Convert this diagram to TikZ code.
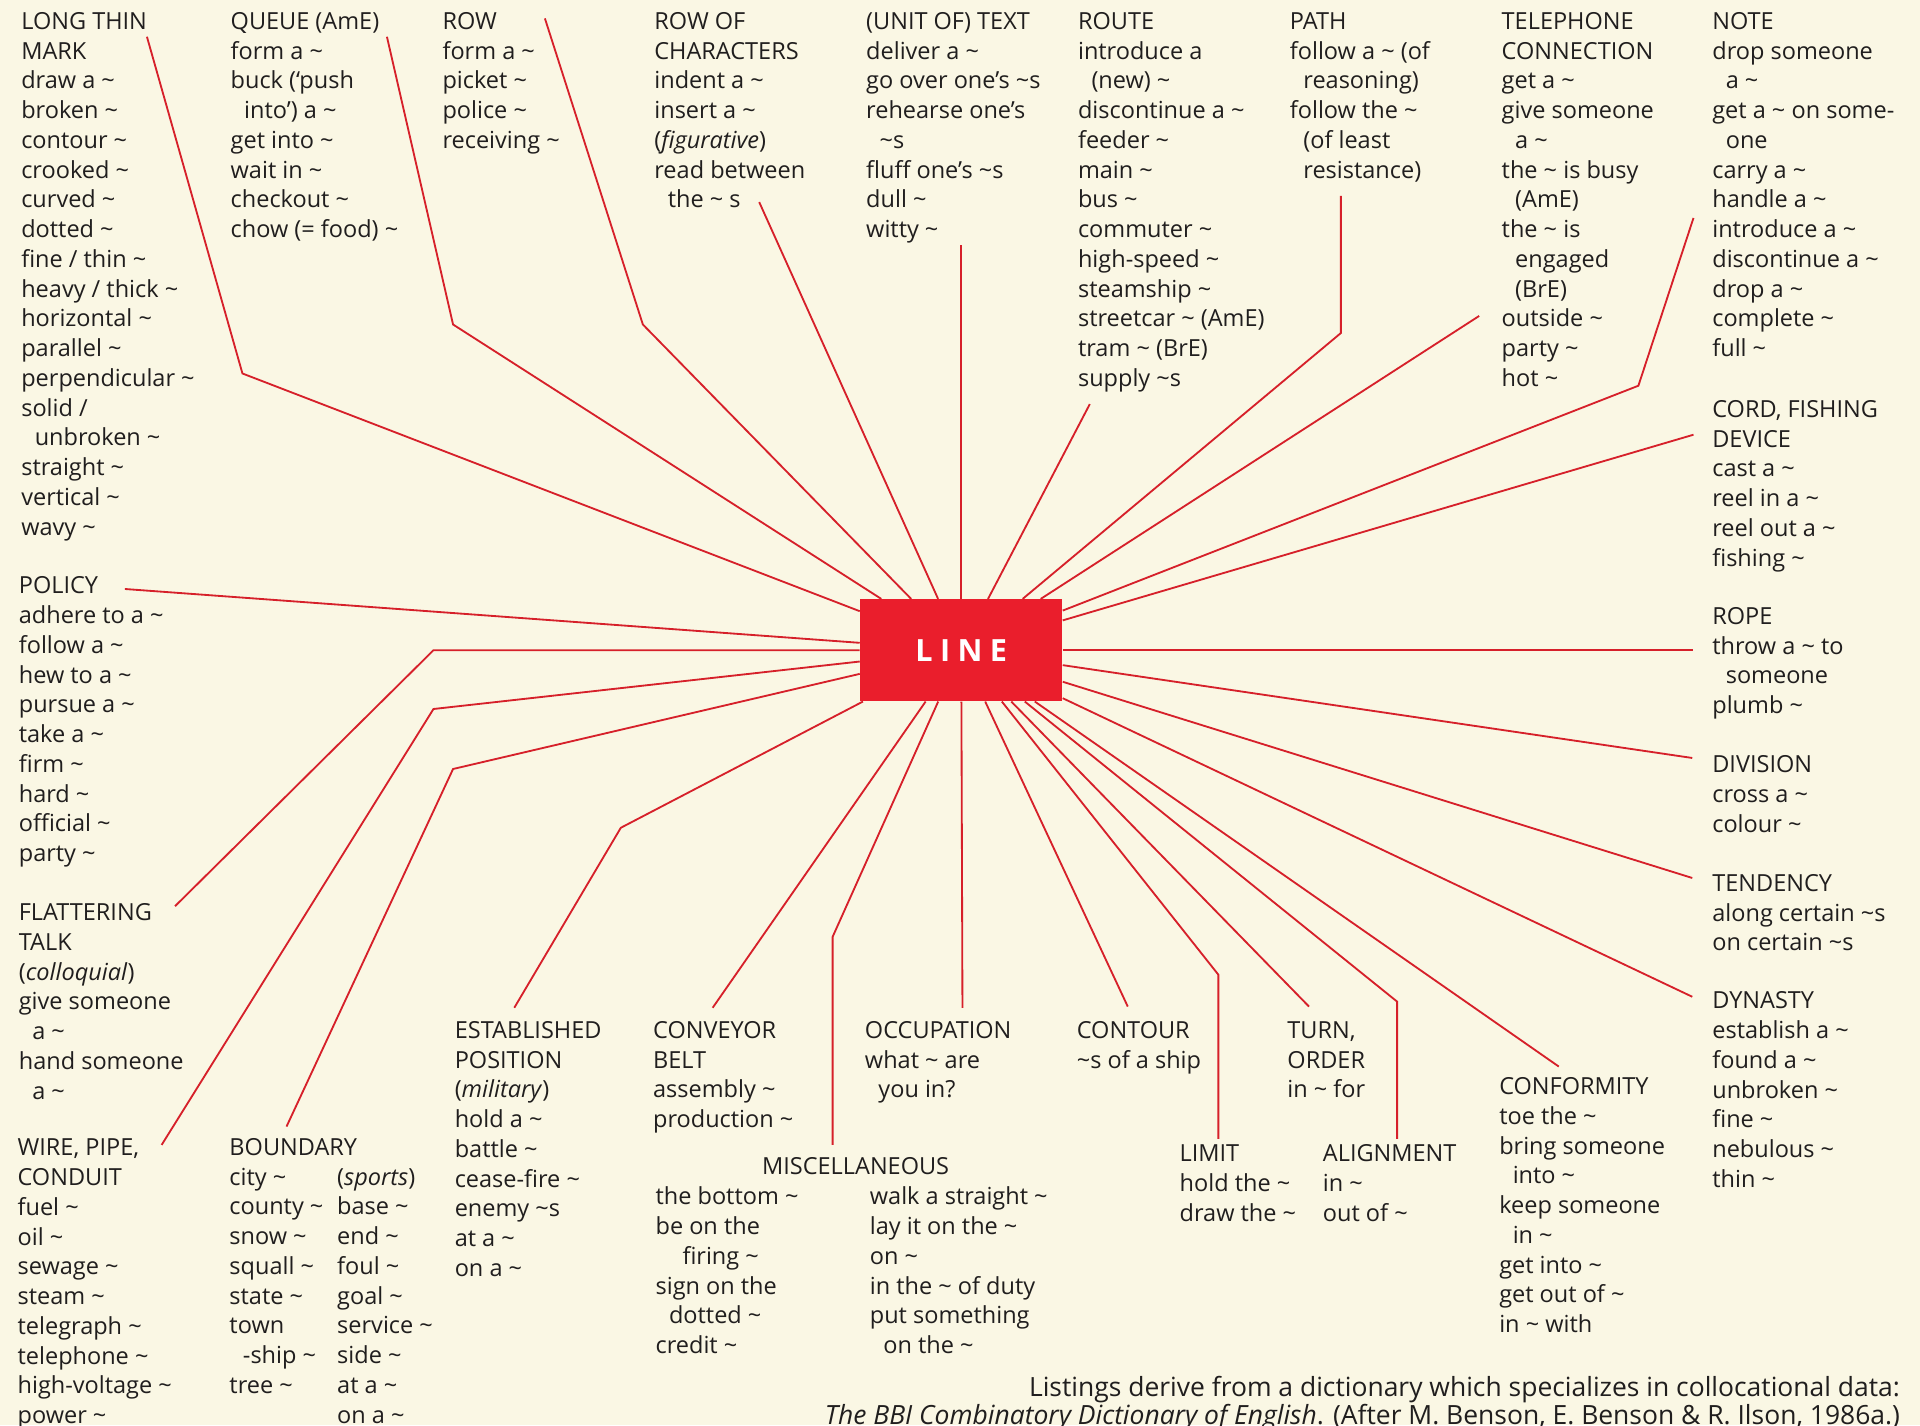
\documentclass[tikz,border=0pt]{standalone}
\usepackage{fontspec}
\setmainfont{Open Sans}
\definecolor{paper}{RGB}{250,247,228}
\definecolor{ink}{RGB}{32,30,30}
\definecolor{rline}{RGB}{214,32,42}
\definecolor{rbox}{RGB}{234,30,44}
\newcommand\sw{\textasciitilde}
\newcommand\ind{\hspace*{5.5pt}}
\newcommand\T{\rule{0pt}{8pt}}
\begin{document}
\begin{tikzpicture}[x=0.5pt,y=-0.5pt,
  col/.style={anchor=north west, align=left, inner sep=0pt, text=ink,
    font=\fontsize{9.6}{12.15}\selectfont, yshift=4.75pt},
  conn/.style={draw=rline, line width=0.75pt, line join=miter}]
\fill[paper] (0,0) rectangle (1568,1164);
\useasboundingbox (0,0) rectangle (1568,1164);

% central box
\node[fill=rbox, minimum width=82.5pt, minimum height=41.5pt, inner sep=0pt,
  text=white, font=\fontsize{12.5}{14}\selectfont\bfseries] (LINE) at (785,531)
  {L\hspace{3pt}I\hspace{3pt}N\hspace{3pt}E};

% top row
\node[col] (mark) at (17,17) {\T LONG THIN\\MARK\\draw a \sw\\broken \sw\\contour \sw\\crooked \sw\\curved \sw\\dotted \sw\\fine / thin \sw\\heavy / thick \sw\\horizontal \sw\\parallel \sw\\perpendicular \sw\\solid /\\\ind unbroken \sw\\straight \sw\\vertical \sw\\wavy \sw};
\node[col] (queue) at (188,17) {\T QUEUE (AmE)\\form a \sw\\buck (‘push\\\ind into’) a \sw\\get into \sw\\wait in \sw\\checkout \sw\\chow (= food) \sw};
\node[col] (row) at (361,17) {\T ROW\\form a \sw\\picket \sw\\police \sw\\receiving \sw};
\node[col] (rowch) at (534,17) {\T ROW OF\\CHARACTERS\\indent a \sw\\insert a \sw\\(\textit{figurative})\\read between\\\ind the \sw{} s};
\node[col] (text) at (707,17) {\T (UNIT OF) TEXT\\deliver a \sw\\go over one’s \sw s\\rehearse one’s\\\ind\sw s\\fluff one’s \sw s\\dull \sw\\witty \sw};
\node[col] (route) at (880,17) {\T ROUTE\\introduce a\\\ind(new) \sw\\discontinue a \sw\\feeder \sw\\main \sw\\bus \sw\\commuter \sw\\high-speed \sw\\steamship \sw\\streetcar \sw{} (AmE)\\tram \sw{} (BrE)\\supply \sw s};
\node[col] (path) at (1053,17) {\T PATH\\follow a \sw{} (of\\\ind reasoning)\\follow the \sw\\\ind(of least\\\ind resistance)};
\node[col] (tel) at (1226,17) {\T TELEPHONE\\CONNECTION\\get a \sw\\give someone\\\ind a \sw\\the \sw{} is busy\\\ind(AmE)\\the \sw{} is\\\ind engaged\\\ind(BrE)\\outside \sw\\party \sw\\hot \sw};
\node[col] (note) at (1398,17) {\T NOTE\\drop someone\\\ind a \sw\\get a \sw{} on some-\\\ind one\\carry a \sw\\handle a \sw\\introduce a \sw\\discontinue a \sw\\drop a \sw\\complete \sw\\full \sw};

% right column
\node[col] (cord) at (1398,334) {\T CORD, FISHING\\DEVICE\\cast a \sw\\reel in a \sw\\reel out a \sw\\fishing \sw};
\node[col] (rope) at (1398,503) {\T ROPE\\throw a \sw{} to\\\ind someone\\plumb \sw};
\node[col] (div) at (1398,624) {\T DIVISION\\cross a \sw\\colour \sw};
\node[col] (tend) at (1398,721) {\T TENDENCY\\along certain \sw s\\on certain \sw s};
\node[col] (dyn) at (1398,817) {\T DYNASTY\\establish a \sw\\found a \sw\\unbroken \sw\\fine \sw\\nebulous \sw\\thin \sw};

% left column
\node[col] (policy) at (15,478) {\T POLICY\\adhere to a \sw\\follow a \sw\\hew to a \sw\\pursue a \sw\\take a \sw\\firm \sw\\hard \sw\\official \sw\\party \sw};
\node[col] (flat) at (15,745) {\T FLATTERING\\TALK\\(\textit{colloquial})\\give someone\\\ind a \sw\\hand someone\\\ind a \sw};
\node[col] (wire) at (14,937) {\T WIRE, PIPE,\\CONDUIT\\fuel \sw\\oil \sw\\sewage \sw\\steam \sw\\telegraph \sw\\telephone \sw\\high-voltage \sw\\power \sw};

% bottom row
\node[col] (bound) at (187,937) {\T BOUNDARY};
\node[col] (boundl) at (187,961) {\T city \sw\\county \sw\\snow \sw\\squall \sw\\state \sw\\town\\\ind-ship \sw\\tree \sw};
\node[col] (boundr) at (275,961) {\T (\textit{sports})\\base \sw\\end \sw\\foul \sw\\goal \sw\\service \sw\\side \sw\\at a \sw\\on a \sw};
\node[col] (estab) at (371,841) {\T ESTABLISHED\\POSITION\\(\textit{military})\\hold a \sw\\battle \sw\\cease-fire \sw\\enemy \sw s\\at a \sw\\on a \sw};
\node[col] (conv) at (533,841) {\T CONVEYOR\\BELT\\assembly \sw\\production \sw};
\node[col] (occ) at (706,841) {\T OCCUPATION\\what \sw{} are\\\ind you in?};
\node[col] (cont) at (879,841) {\T CONTOUR\\\sw s of a ship};
\node[col] (turn) at (1051,841) {\T TURN,\\ORDER\\in \sw{} for};
\node[col] (misc) at (622,952) {\T MISCELLANEOUS};
\node[col] (miscl) at (535,977) {\T the bottom \sw\\be on the\\\ind\ind firing \sw\\sign on the\\\ind dotted \sw\\credit \sw};
\node[col] (miscr) at (710,977) {\T walk a straight \sw\\lay it on the \sw\\on \sw\\in the \sw{} of duty\\put something\\\ind on the \sw};
\node[col] (limit) at (963,942) {\T LIMIT\\hold the \sw\\draw the \sw};
\node[col] (align) at (1080,942) {\T ALIGNMENT\\in \sw\\out of \sw};
\node[col] (conf) at (1224,887) {\T CONFORMITY\\toe the \sw\\bring someone\\\ind into \sw\\keep someone\\\ind in \sw\\get into \sw\\get out of \sw\\in \sw{} with};

\node[col, anchor=north east, align=right, font=\fontsize{10.8}{11.6}\selectfont] (fn) at (1552,1133) {\T Listings derive from a dictionary which specializes in collocational data:\\\textit{The BBI Combinatory Dictionary of English}. (After M. Benson, E. Benson \& R. Ilson, 1986a.)};

% connector points
\coordinate (pa0) at (120,30);   \coordinate (pa1) at (198,305);
\coordinate (pb0) at (316,30);   \coordinate (pb1) at (370,265);
\coordinate (pc0) at (445,15);   \coordinate (pc1) at (525,265);
\coordinate (pd0) at (620,165);
\coordinate (pe0) at (785,200);
\coordinate (pf0) at (890,330);
\coordinate (pg0) at (1095,160); \coordinate (pg1) at (1095,272);
\coordinate (ph0) at (1208,258);
\coordinate (pi0) at (1383,178); \coordinate (pi1) at (1338,315);
\coordinate (pj0) at (1383,355);
\coordinate (pk0) at (1383,531);
\coordinate (pl0) at (1382,619);
\coordinate (pm0) at (1382,717);
\coordinate (pn0) at (1382,814);
\coordinate (po0) at (1273,871);
\coordinate (pp0) at (1141,930); \coordinate (pp1) at (1141,818);
\coordinate (pq0) at (1069,822);
\coordinate (pr0) at (995,930);  \coordinate (pr1) at (995,796);
\coordinate (ps0) at (921,822);
\coordinate (pt0) at (786,823);
\coordinate (pu0) at (680,935);  \coordinate (pu1) at (680,765);
\coordinate (pv0) at (582,823);
\coordinate (pw0) at (420,823);  \coordinate (pw1) at (507,676);
\coordinate (px0) at (234,920);  \coordinate (px1) at (370,628);
\coordinate (py0) at (132,935);  \coordinate (py1) at (354,579);
\coordinate (pz0) at (143,740);  \coordinate (pz1) at (354,531);
\coordinate (pp) at (102,481);

\draw[conn] (LINE) -- (pa1) -- (pa0);
\draw[conn] (LINE) -- (pb1) -- (pb0);
\draw[conn] (LINE) -- (pc1) -- (pc0);
\draw[conn] (LINE) -- (pd0);
\draw[conn] (LINE) -- (pe0);
\draw[conn] (LINE) -- (pf0);
\draw[conn] (LINE) -- (pg1) -- (pg0);
\draw[conn] (LINE) -- (ph0);
\draw[conn] (LINE) -- (pi1) -- (pi0);
\draw[conn] (LINE) -- (pj0);
\draw[conn] (LINE) -- (pk0);
\draw[conn] (LINE) -- (pl0);
\draw[conn] (LINE) -- (pm0);
\draw[conn] (LINE) -- (pn0);
\draw[conn] (LINE) -- (po0);
\draw[conn] (LINE) -- (pp1) -- (pp0);
\draw[conn] (LINE) -- (pq0);
\draw[conn] (LINE) -- (pr1) -- (pr0);
\draw[conn] (LINE) -- (ps0);
\draw[conn] (LINE) -- (pt0);
\draw[conn] (LINE) -- (pu1) -- (pu0);
\draw[conn] (LINE) -- (pv0);
\draw[conn] (LINE) -- (pw1) -- (pw0);
\draw[conn] (LINE) -- (px1) -- (px0);
\draw[conn] (LINE) -- (py1) -- (py0);
\draw[conn] (LINE) -- (pz1) -- (pz0);
\draw[conn] (LINE) -- (pp);
\end{tikzpicture}
\end{document}
